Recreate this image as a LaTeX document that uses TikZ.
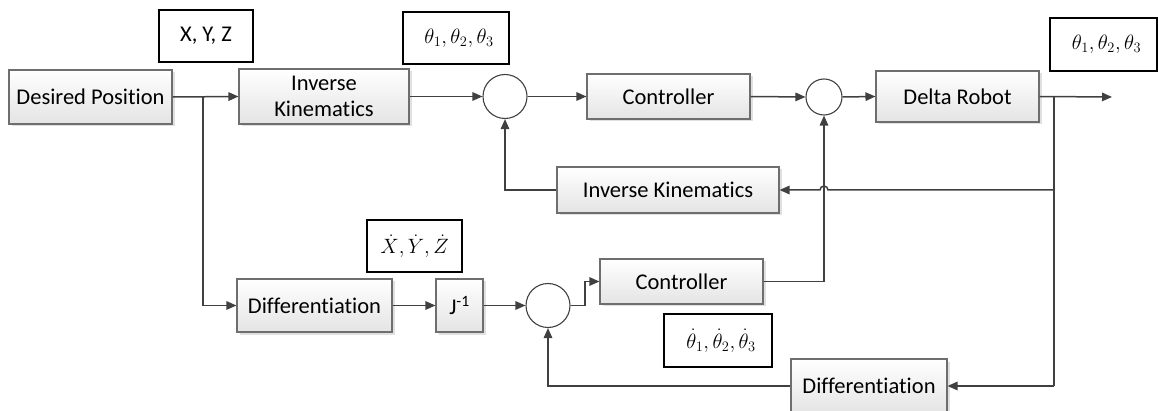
\documentclass[tikz,border=0pt]{standalone}
\usepackage{fontspec}
\setmainfont[RawFeature={-liga;-dlig;-clig}]{Carlito}
\usetikzlibrary{arrows.meta,shadows}
\definecolor{linegray}{HTML}{404040}
\definecolor{boxedge}{HTML}{6E6E6E}
\definecolor{boxlow}{HTML}{E4E4E4}
\begin{document}
\begin{tikzpicture}[x=1pt,y=-1pt,
  font=\fontsize{22.5}{26}\selectfont,
  block/.style={draw=boxedge,line width=1.1pt,top color=white,bottom color=boxlow,
    inner sep=0pt,align=center,
    drop shadow={shadow xshift=2.5pt,shadow yshift=-2.5pt,fill=black,opacity=0.12}},
  tag/.style={draw=black,line width=1.8pt,fill=white,inner sep=0pt},
  sumjoint/.style={circle,draw=linegray,line width=1.1pt,fill=white,inner sep=0pt},
  link/.style={draw=linegray,line width=1.5pt},
  flow/.style={link,-{Triangle[length=10pt,width=8.5pt]}}]
\useasboundingbox (0,0) rectangle (1158,411);

% forward path
\node[block,minimum width=163pt,minimum height=54pt] (dp) at (90.5,97) {Desired Position};
\node[block,minimum width=170pt,minimum height=55pt] (ik1) at (324,96.5) {Inverse\\Kinematics};
\node[sumjoint,minimum size=44pt] (s1) at (505,96.5) {};
\node[block,minimum width=163pt,minimum height=45pt] (c1) at (668.5,96.5) {Controller};
\node[sumjoint,minimum size=36pt] (s2) at (824,97) {};
\node[block,minimum width=163pt,minimum height=51pt] (dr) at (957.5,96.5) {Delta Robot};
\coordinate (out) at (1112,97);

% feedback blocks
\node[block,minimum width=222pt,minimum height=46pt] (ik2) at (668,190) {Inverse Kinematics};
\node[block,minimum width=156pt,minimum height=54pt] (d2) at (869,386) {Differentiation};

% velocity path
\node[block,minimum width=155pt,minimum height=53pt] (d1) at (314.5,305.5) {Differentiation};
\node[block,minimum width=47pt,minimum height=53pt] (jinv) at (459.5,305.5) {J\textsuperscript{-1}};
\node[sumjoint,minimum size=44pt] (s3) at (548,305.5) {};
\node[block,minimum width=163pt,minimum height=45pt] (c2) at (681.5,281.5) {Controller};

% signal tags
\node[tag,minimum width=94pt,minimum height=52pt] (txyz) at (206,36) {X, Y, Z};
\node[tag,minimum width=106pt,minimum height=52pt] (tth1) at (456,38) {\hspace{6pt}$\theta_1,\theta_2,\theta_3$};
\node[tag,minimum width=107pt,minimum height=53pt] (tth2) at (1103.5,44.5) {\hspace{6pt}$\theta_1,\theta_2,\theta_3$};
\node[tag,minimum width=95pt,minimum height=52pt] (tdxyz) at (414.5,246) {$\dot X,\dot Y,\dot Z$};
\node[tag,minimum width=108pt,minimum height=53pt] (tdth) at (718,340.5) {\hspace{6pt}$\dot\theta_1,\dot\theta_2,\dot\theta_3$};

% branch points
\coordinate (split) at (203,97);
\coordinate (tap) at (1054,97);
\coordinate (tapmid) at (1054,190);
\coordinate (tapbot) at (1054,386);
\coordinate (hopR) at (828,190);

% forward connectors
\draw[flow] (dp.east) -- (ik1.west);
\draw[flow] (ik1.east) -- (s1.west);
\draw[flow] (s1.east) -- (c1.west);
\draw[flow] (c1.east) -- (s2.west);
\draw[flow] (s2.east) -- (dr.west);
\draw[flow] (dr.east) -- (out);

% velocity connectors
\draw[flow] (split) |- (d1.west);
\draw[flow] (d1.east) -- (jinv.west);
\draw[flow] (jinv.east) -- (s3.west);
\draw[flow] (s3.east) -- (585,305.5) -- (585,281.5) -- (c2.west);
\draw[flow] (c2.east) -| (s2.south);

% feedback connectors
\draw[link] (tap) -- (tapbot);
\draw[flow] (tapbot) -- (d2.east);
\draw[flow] (tapmid) -- (hopR) arc[start angle=0,end angle=-180,radius=4] -- (ik2.east);
\draw[flow] (ik2.west) -| (s1.south);
\draw[flow] (d2.west) -| (s3.south);
\end{tikzpicture}
\end{document}
